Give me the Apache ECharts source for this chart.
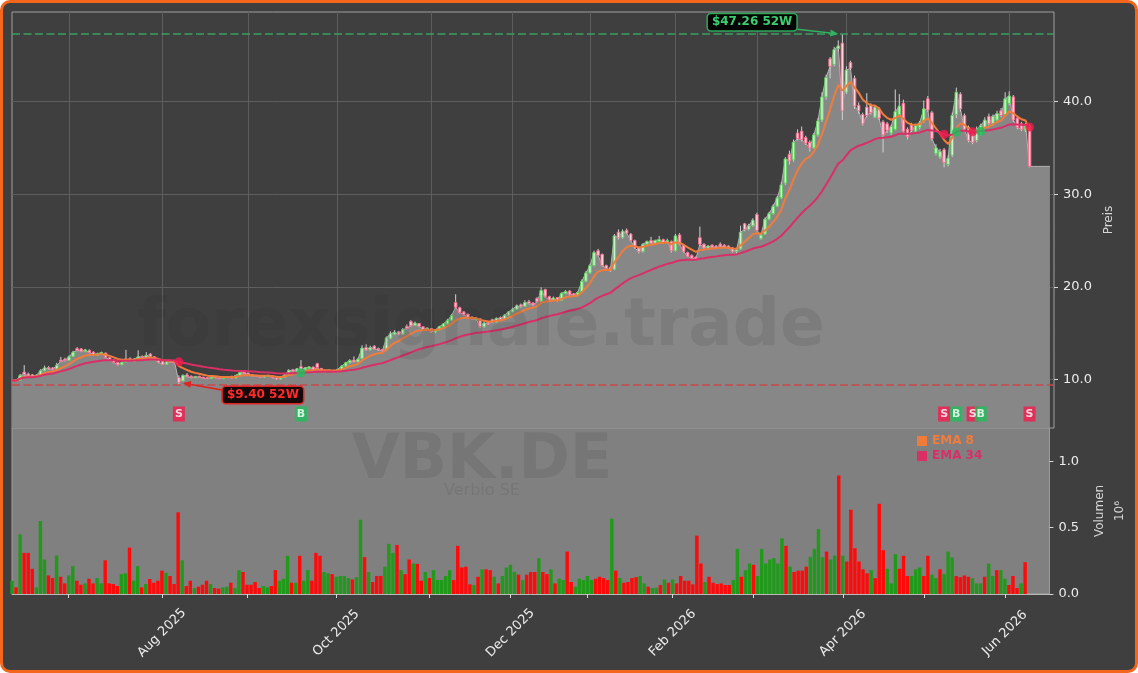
<!DOCTYPE html>
<html>
<head>
<meta charset="utf-8">
<script src="https://cdn.jsdelivr.net/npm/echarts@6/dist/echarts.min.js"></script>
<style>
html,body{margin:0;padding:0;background:#ffffff;}
#frame{position:absolute;left:0;top:0;width:1138px;height:673px;box-sizing:border-box;border:3px solid #f4661b;border-radius:10px;background:#3f3f3f;}
#chart{position:absolute;left:0;top:0;width:1138px;height:673px;}
</style>
</head>
<body>
<div id="frame"></div>
<div id="chart"></div>
<script>
// ---------------- data ----------------
const START_DATE = '2025-06-11';
const TRADING_DAYS = 251;
const HOLIDAYS = ['2025-12-24','2025-12-25','2025-12-26','2025-12-31','2026-01-01','2026-04-03','2026-04-06','2026-05-01'];
const PAD_CATEGORIES = 6;
const TAIL_FILL = 5;

const open = [
9.80,9.95,9.90,10.80,10.60,10.50,10.30,10.50,10.95,11.30,
11.25,11.15,12.10,12.20,12.05,12.50,13.35,13.30,13.05,13.15,
12.95,12.65,12.75,12.85,12.35,12.10,11.85,11.60,11.90,12.25,
11.95,12.20,12.50,12.40,12.75,12.45,12.15,11.95,11.65,12.00,
11.95,10.20,9.85,10.50,10.35,10.20,10.35,10.25,10.20,10.10,
10.30,10.20,10.10,10.20,10.35,10.15,10.45,10.85,10.70,10.55,
10.45,10.35,10.25,10.35,10.40,10.20,10.05,10.25,10.50,11.05,
10.90,11.40,11.05,11.20,11.35,11.70,11.20,10.80,10.90,11.00,
10.85,11.10,11.45,11.80,12.10,11.90,12.25,13.45,13.20,13.60,
13.35,13.25,13.20,14.45,14.90,15.15,14.90,15.75,16.25,15.85,
16.05,15.70,15.35,15.50,15.15,15.35,15.70,16.00,16.40,18.30,
17.75,17.30,17.05,16.75,16.45,16.55,15.70,16.20,16.45,16.20,
16.70,16.50,16.95,17.30,17.60,18.05,17.90,18.40,18.25,18.75,
18.45,19.70,18.95,18.55,18.85,18.55,19.30,19.55,19.25,19.10,
19.45,20.60,21.50,22.30,23.90,23.50,22.30,22.10,21.90,25.90,
25.30,26.10,25.70,25.00,24.20,23.80,24.60,25.00,24.70,24.90,
25.10,24.80,24.90,23.90,25.60,24.50,23.70,23.40,23.20,25.30,
24.60,24.10,24.50,24.40,24.60,24.50,24.40,24.20,23.80,24.10,
26.80,26.20,26.60,27.80,25.20,25.70,27.30,27.90,28.70,29.60,
31.20,34.30,33.70,36.60,36.80,36.10,35.60,35.00,36.40,38.00,
40.50,44.60,44.00,45.70,46.30,41.00,44.20,42.50,39.60,38.60,
39.40,39.60,38.30,39.20,37.80,37.60,36.60,37.00,38.60,39.80,
37.00,37.50,36.80,37.20,37.90,40.30,38.80,34.40,34.00,34.80,
33.20,34.20,38.60,40.80,38.50,37.20,36.50,35.80,36.50,37.20,
38.40,37.60,38.00,39.00,38.60,39.80,40.50,38.20,37.60,36.90,
37.40
];
const high = [
10.00,10.05,10.60,11.55,10.75,10.60,10.55,11.10,11.50,11.45,
11.35,11.80,12.45,12.35,12.60,13.10,13.50,13.40,13.30,13.25,
13.05,12.90,13.00,12.90,12.45,12.20,11.90,11.95,13.20,12.40,
12.30,13.15,12.60,12.95,12.85,12.50,12.20,12.00,11.95,12.10,
12.00,10.45,10.55,10.70,10.45,10.40,10.40,10.30,10.25,10.30,
10.35,10.25,10.25,10.35,10.40,10.50,10.90,10.95,10.75,10.60,
10.50,10.40,10.45,10.50,10.45,10.25,10.30,10.55,11.10,11.15,
11.25,12.10,11.35,11.45,11.40,11.80,11.25,11.05,11.10,11.05,
11.15,11.55,11.90,12.20,12.50,12.30,13.70,13.80,13.65,13.70,
13.45,13.30,14.65,15.20,15.35,15.25,15.55,15.95,16.40,16.25,
16.10,15.75,15.65,15.55,15.45,15.80,16.10,16.55,17.05,19.20,
17.85,17.40,17.10,16.80,16.70,16.60,16.20,16.30,16.55,16.70,
16.80,17.05,17.40,17.75,18.10,18.20,18.55,18.60,18.35,18.90,
19.95,19.80,19.05,18.95,18.90,19.40,19.65,19.65,19.30,19.50,
20.80,21.70,22.50,23.90,24.10,23.60,22.40,22.20,25.70,26.20,
26.20,26.30,25.80,25.10,24.30,24.70,25.00,25.40,25.10,25.50,
25.20,25.20,25.00,25.70,25.80,24.60,23.80,23.50,23.30,26.50,
24.70,24.50,24.60,24.50,24.80,24.60,24.50,24.30,24.10,26.60,
26.90,26.80,27.40,28.00,25.80,27.50,28.10,28.90,29.80,31.30,
34.00,34.70,35.90,37.00,37.30,36.30,35.80,36.60,38.20,41.00,
42.90,44.80,45.90,46.60,47.26,43.80,44.40,42.80,39.90,38.80,
40.90,39.80,39.60,39.40,38.00,37.80,37.50,41.30,40.80,40.20,
37.20,37.70,37.60,37.90,40.10,40.60,39.00,35.40,34.90,35.00,
34.20,38.80,41.50,41.00,38.70,37.40,36.80,37.30,37.60,38.30,
38.70,38.60,39.00,39.30,41.00,41.10,40.70,38.40,37.80,37.70,
37.60
];
const low = [
9.75,9.80,9.85,10.40,10.30,10.20,10.25,10.45,10.90,11.05,
11.00,11.10,11.85,11.95,12.00,12.45,13.05,12.95,12.95,12.85,
12.60,12.55,12.70,12.30,12.05,11.75,11.50,11.55,11.85,11.90,
11.90,12.15,12.30,12.35,12.40,12.10,11.75,11.55,11.60,11.80,
11.70,9.40,9.80,10.25,10.15,10.15,10.20,10.10,10.05,10.05,
10.15,10.05,10.05,10.15,10.10,10.10,10.40,10.60,10.50,10.35,
10.30,10.20,10.20,10.30,10.15,9.95,10.00,10.20,10.45,10.85,
10.85,11.00,11.00,11.15,11.05,11.20,10.80,10.70,10.85,10.75,
10.80,11.05,11.40,11.75,11.85,11.85,12.20,13.10,13.10,13.25,
13.10,13.00,13.15,14.35,14.80,14.75,14.85,15.40,15.70,15.80,
15.65,15.30,15.30,15.05,15.00,15.30,15.65,15.95,16.35,17.70,
17.10,16.90,16.60,16.40,16.40,15.55,15.60,15.90,16.10,16.15,
16.40,16.45,16.90,17.25,17.55,17.75,17.85,18.10,17.95,18.30,
18.40,18.80,18.50,18.50,18.40,18.50,19.20,19.05,19.00,19.05,
19.40,20.50,21.40,22.20,23.30,22.20,21.90,21.60,21.80,25.10,
25.20,25.70,24.90,24.10,23.60,23.70,24.50,24.60,24.60,24.80,
24.70,24.70,23.70,23.80,24.50,23.70,23.20,23.00,22.90,24.40,
24.00,24.00,24.20,24.10,24.30,24.20,24.10,23.70,23.60,24.00,
26.00,26.10,26.50,26.00,25.10,25.60,27.20,27.80,28.60,29.50,
31.00,33.20,33.50,35.80,35.70,35.30,34.60,34.90,36.20,37.80,
40.20,42.50,43.80,45.40,38.00,40.80,43.40,39.20,38.70,37.40,
38.30,38.60,38.20,38.00,34.50,36.60,36.40,36.90,38.40,36.60,
35.90,36.70,36.60,37.00,37.70,38.90,35.80,34.20,33.80,32.90,
33.00,34.00,38.20,38.90,36.80,35.60,35.40,35.60,36.30,37.00,
37.40,37.40,37.80,38.30,38.40,39.60,37.80,37.00,36.80,36.70,
32.90
];
const close = [
9.90,9.85,10.45,10.55,10.40,10.30,10.45,10.95,11.25,11.15,
11.10,11.55,11.95,12.05,12.45,12.95,13.15,13.05,13.20,12.90,
12.70,12.80,12.90,12.40,12.15,11.85,11.60,11.85,12.20,12.00,
12.20,12.45,12.40,12.60,12.50,12.15,11.85,11.65,11.90,11.85,
11.80,9.70,10.45,10.30,10.20,10.30,10.25,10.15,10.10,10.25,
10.20,10.10,10.20,10.30,10.15,10.45,10.75,10.70,10.55,10.40,
10.35,10.25,10.40,10.45,10.20,10.05,10.25,10.50,11.00,10.90,
11.15,11.05,11.25,11.35,11.10,11.30,10.85,10.95,11.00,10.80,
11.10,11.45,11.80,12.05,11.90,12.20,13.40,13.20,13.45,13.30,
13.20,13.10,14.50,14.95,15.10,14.85,15.40,15.50,15.80,16.10,
15.75,15.40,15.55,15.20,15.35,15.70,16.00,16.40,16.90,17.80,
17.20,17.00,16.70,16.50,16.60,15.70,16.10,16.00,16.20,16.60,
16.50,16.95,17.30,17.60,17.95,17.85,18.30,18.20,18.05,18.40,
19.60,18.90,18.60,18.80,18.50,19.30,19.50,19.20,19.10,19.40,
20.60,21.50,22.30,23.70,23.40,22.30,22.00,21.80,25.50,25.30,
26.00,25.80,25.00,24.20,23.80,24.60,24.90,24.70,25.00,25.10,
24.80,25.00,23.90,25.50,24.60,23.80,23.30,23.10,23.00,24.60,
24.20,24.40,24.30,24.20,24.40,24.30,24.20,23.80,24.00,25.90,
26.20,26.60,27.20,26.10,25.60,27.30,27.90,28.70,29.60,31.00,
33.80,33.60,35.60,36.00,35.90,35.50,35.00,36.40,37.90,40.50,
42.60,43.80,45.60,46.00,39.00,43.40,43.60,39.50,39.00,37.60,
38.50,38.80,39.40,38.20,36.40,36.90,37.30,38.90,39.50,36.80,
36.20,36.90,37.40,37.70,39.20,39.10,36.00,35.00,34.60,33.40,
33.90,38.50,41.00,39.20,37.00,35.80,35.60,37.00,37.40,38.00,
37.60,38.40,38.70,38.50,40.30,40.60,38.00,37.20,37.00,37.50,
33.00
];
// volume in millions
const volume = [
0.10,0.05,0.45,0.31,0.31,0.19,0.05,0.55,0.26,0.14,
0.12,0.29,0.13,0.08,0.14,0.21,0.10,0.07,0.08,0.115,
0.08,0.12,0.08,0.254,0.08,0.075,0.06,0.15,0.156,0.35,
0.10,0.21,0.05,0.075,0.113,0.085,0.10,0.176,0.16,0.136,
0.075,0.616,0.254,0.06,0.10,0.045,0.055,0.07,0.10,0.075,
0.045,0.04,0.05,0.055,0.085,0.045,0.18,0.166,0.07,0.07,
0.09,0.045,0.06,0.05,0.06,0.18,0.10,0.115,0.288,0.085,
0.085,0.288,0.10,0.18,0.10,0.31,0.288,0.166,0.156,0.15,
0.13,0.136,0.136,0.12,0.11,0.127,0.56,0.278,0.166,0.09,
0.136,0.136,0.206,0.378,0.31,0.37,0.18,0.15,0.26,0.23,
0.227,0.10,0.166,0.12,0.18,0.105,0.105,0.136,0.18,0.105,
0.363,0.20,0.206,0.073,0.068,0.13,0.186,0.186,0.18,0.13,
0.08,0.136,0.20,0.22,0.166,0.146,0.105,0.146,0.166,0.166,
0.27,0.166,0.15,0.186,0.08,0.115,0.105,0.32,0.09,0.055,
0.115,0.105,0.136,0.105,0.115,0.13,0.12,0.105,0.568,0.176,
0.12,0.085,0.09,0.12,0.127,0.136,0.08,0.055,0.045,0.048,
0.068,0.11,0.085,0.11,0.08,0.136,0.10,0.10,0.073,0.44,
0.23,0.09,0.13,0.085,0.075,0.08,0.068,0.068,0.105,0.34,
0.13,0.18,0.23,0.22,0.136,0.34,0.23,0.26,0.27,0.23,
0.42,0.363,0.206,0.166,0.176,0.176,0.206,0.28,0.34,0.49,
0.278,0.32,0.26,0.29,0.894,0.288,0.245,0.636,0.345,0.245,
0.186,0.156,0.18,0.12,0.68,0.33,0.19,0.08,0.30,0.19,
0.288,0.136,0.136,0.186,0.20,0.136,0.288,0.146,0.12,0.186,
0.15,0.32,0.275,0.136,0.127,0.14,0.13,0.12,0.08,0.08,
0.13,0.23,0.136,0.18,0.18,0.115,0.068,0.136,0.045,0.08,
0.24
];
const signalIndex = [41, 71, 229, 232, 236, 238, 250];
const signalType  = ['S', 'B', 'S', 'B', 'S', 'B', 'S'];
const priceTicks = [10, 20, 30, 40];
const volumeTicks = [0, 0.5, 1.0];
const MONTHS = ['Jan','Feb','Mar','Apr','May','Jun','Jul','Aug','Sep','Oct','Nov','Dec'];

// ---------------- styling constants ----------------
const PRICE_MIN = 4.77, PRICE_MAX = 49.66, VOL_MAX = 1.2516;
const SIGNAL_ROW = 6.28;
const C_EMA8 = '#f07c3c', C_EMA34 = '#d92e66';
const C_SELL = '#f21c4e', C_BUY = '#1ebe5a';
const C_VOL_UP = '#219a1c', C_VOL_DOWN = '#ff0a0a';
const C_GRID = '#5e5e5e', C_TXT = '#ececec';
const FONT = 'DejaVu Sans';

// ---------------- derived ----------------
const dates = [];
(function(){
  const d = new Date(START_DATE + 'T00:00:00Z');
  while (dates.length < TRADING_DAYS) {
    const wd = d.getUTCDay();
    const s = d.toISOString().slice(0, 10);
    if (wd !== 0 && wd !== 6 && HOLIDAYS.indexOf(s) < 0) dates.push(s);
    d.setUTCDate(d.getUTCDate() + 1);
  }
})();
const categories = dates.slice();
for (let k = 0; k < PAD_CATEGORIES; k++) categories.push('_pad' + k);

function isMonthStart(i) {
  return i > 0 && i < dates.length && dates[i].slice(0, 7) !== dates[i - 1].slice(0, 7);
}
function isLabelMonth(i) {
  return isMonthStart(i) && (+dates[i].slice(5, 7)) % 2 === 0;
}
function fmtDate(v) {
  if (!v || v.charAt(0) === '_') return '';
  return MONTHS[+v.slice(5, 7) - 1] + ' ' + v.slice(0, 4);
}
function ema(values, span) {
  const a = 2 / (span + 1);
  let num = 0, den = 0;
  return values.map(v => { num = num * (1 - a) + v; den = den * (1 - a) + 1; return +(num / den).toFixed(4); });
}
const ema8 = ema(close, 8);
const ema34 = ema(close, 34);
const areaData = close.concat(new Array(TAIL_FILL).fill(close[close.length - 1]));

const HIGH_52W = Math.max.apply(null, high);
const HIGH_52W_INDEX = high.indexOf(HIGH_52W);
const LOW_52W = Math.min.apply(null, low);
const LOW_52W_INDEX = low.indexOf(LOW_52W);

const candleData = close.map((c, i) => [i, open[i], c, low[i], high[i]]);
const volData = volume.map((v, i) => ({ value: v, itemStyle: { color: close[i] >= open[i] ? C_VOL_UP : C_VOL_DOWN } }));
const dotData = signalIndex.map((idx, k) => ({ value: [idx, ema34[idx]], itemStyle: { color: signalType[k] === 'S' ? C_SELL : C_BUY } }));
const boxData = signalIndex.map((idx, k) => ({ value: [idx, SIGNAL_ROW], itemStyle: { color: signalType[k] === 'S' ? C_SELL : C_BUY } }));

// ---------------- chart ----------------
const chart = echarts.init(document.getElementById('chart'), null, { renderer: 'canvas' });
const option = {
  animation: false,
  backgroundColor: 'transparent',
  textStyle: { fontFamily: FONT },
  legend: {
    data: [
      { name: 'EMA 8', textStyle: { color: C_EMA8 } },
      { name: 'EMA 34', textStyle: { color: C_EMA34 } }
    ],
    orient: 'vertical', left: 912, top: 430, itemWidth: 10, itemHeight: 10, itemGap: 3,
    icon: 'rect', selectedMode: false,
    textStyle: { fontWeight: 'bold', fontSize: 12, fontFamily: FONT }
  },
  grid: [
    { left: 12, top: 12, width: 1042, height: 416, show: true, borderColor: '#a0a0a0', borderWidth: 1, backgroundColor: 'transparent' },
    { left: 12, top: 428, width: 1042, height: 166, show: true, borderColor: '#a0a0a0', borderWidth: 1, backgroundColor: '#808080' }
  ],
  xAxis: [
    {
      type: 'category', gridIndex: 0, data: categories, boundaryGap: false,
      axisLine: { show: false }, axisTick: { show: false }, axisLabel: { show: false },
      splitLine: { show: true, interval: (i) => isMonthStart(i), lineStyle: { color: C_GRID, width: 1 } }
    },
    {
      type: 'category', gridIndex: 1, data: categories, boundaryGap: false,
      axisLine: { show: true, lineStyle: { color: '#b8b8b8' } },
      axisTick: { show: true, interval: (i) => isMonthStart(i), length: 4, lineStyle: { color: '#d8d8d8' } },
      axisLabel: {
        show: true, interval: (i) => isLabelMonth(i), formatter: fmtDate,
        rotate: 45, align: 'center', verticalAlign: 'middle', margin: 39,
        color: C_TXT, fontSize: 13, fontFamily: FONT
      },
      splitLine: { show: false }
    }
  ],
  yAxis: [
    {
      type: 'value', gridIndex: 0, position: 'right', min: PRICE_MIN, max: PRICE_MAX,
      axisLine: { show: false },
      axisTick: { show: true, customValues: priceTicks, length: 4, lineStyle: { color: '#d8d8d8' } },
      axisLabel: { customValues: priceTicks, formatter: v => v.toFixed(1), color: C_TXT, fontSize: 13, margin: 9, fontFamily: FONT },
      splitLine: { show: true, lineStyle: { color: C_GRID, width: 1 } },
      name: 'Preis', nameLocation: 'middle', nameRotate: 90, nameGap: 46,
      nameTextStyle: { color: '#d6d6d6', fontSize: 12, fontFamily: FONT }
    },
    {
      type: 'value', gridIndex: 1, position: 'right', min: 0, max: VOL_MAX,
      axisLine: { show: false },
      axisTick: { show: true, customValues: volumeTicks, length: 4, lineStyle: { color: '#d8d8d8' } },
      axisLabel: { customValues: volumeTicks, formatter: v => v.toFixed(1), color: C_TXT, fontSize: 13, margin: 9, fontFamily: FONT },
      splitLine: { show: false },
      name: 'Volumen\n10\u2076', nameLocation: 'middle', nameRotate: 90, nameGap: 36,
      nameTextStyle: { color: '#d6d6d6', fontSize: 12, lineHeight: 20, align: 'center', fontFamily: FONT }
    }
  ],
  series: [
    {
      name: 'Close', type: 'line', xAxisIndex: 0, yAxisIndex: 0, data: areaData, z: 1,
      symbol: 'none', silent: true,
      lineStyle: { color: '#b5b5b5', width: 1 },
      areaStyle: { color: '#878787', opacity: 1, origin: 'start' },
      markLine: {
        silent: true, symbol: 'none', label: { show: false },
        data: [
          { yAxis: HIGH_52W, lineStyle: { color: '#3aa060', width: 1.6, type: [8, 3.5] } },
          { yAxis: LOW_52W, lineStyle: { color: '#c84b4b', width: 1.6, type: [8, 3.5] } }
        ]
      }
    },
    {
      name: 'Kurs', type: 'custom', xAxisIndex: 0, yAxisIndex: 0, data: candleData, z: 3, clip: true,
      encode: { x: 0, y: [1, 2, 3, 4] },
      renderItem: function (params, api) {
        const i = api.value(0), o = api.value(1), c = api.value(2), l = api.value(3), h = api.value(4);
        const pO = api.coord([i, o]), pC = api.coord([i, c]), pL = api.coord([i, l]), pH = api.coord([i, h]);
        const w = Math.max(api.size([1, 0])[0] * 0.62, 1.5);
        const up = c >= o;
        const top = Math.min(pO[1], pC[1]), bot = Math.max(pO[1], pC[1]);
        return {
          type: 'group',
          children: [
            { type: 'line', shape: { x1: pH[0], y1: pH[1], x2: pL[0], y2: pL[1] }, style: { stroke: '#d2d2d2', lineWidth: 1 } },
            { type: 'rect', shape: { x: pO[0] - w / 2, y: top, width: w, height: Math.max(bot - top, 1) },
              style: { fill: up ? '#cdf1cd' : '#ffd3dc', stroke: up ? '#62cf62' : '#f27090', lineWidth: 1 } }
          ]
        };
      }
    },
    {
      name: 'EMA 8', type: 'line', xAxisIndex: 0, yAxisIndex: 0, data: ema8, z: 4, color: C_EMA8,
      symbol: 'none', silent: true, lineStyle: { color: C_EMA8, width: 2 }
    },
    {
      name: 'EMA 34', type: 'line', xAxisIndex: 0, yAxisIndex: 0, data: ema34, z: 4, color: C_EMA34,
      symbol: 'none', silent: true, lineStyle: { color: C_EMA34, width: 2 }
    },
    {
      name: 'Kreuzung', type: 'scatter', xAxisIndex: 0, yAxisIndex: 0, data: dotData, z: 5,
      symbol: 'circle', symbolSize: 9, silent: true
    },
    {
      name: 'Signal', type: 'scatter', xAxisIndex: 0, yAxisIndex: 0, data: boxData, z: 5,
      symbol: 'rect', symbolSize: [12, 15], silent: true,
      label: {
        show: true, position: 'inside', formatter: p => signalType[p.dataIndex],
        color: '#ffffff', fontWeight: 'bold', fontSize: 11, fontFamily: FONT
      }
    },
    {
      name: 'Volumen', type: 'bar', xAxisIndex: 1, yAxisIndex: 1, data: volData, barWidth: '85%', silent: true, z: 2
    }
  ]
};
chart.setOption(option);

// ---------------- annotations & watermark ----------------
function arrow(x1, y1, x2, y2, color) {
  const ang = Math.atan2(y2 - y1, x2 - x1), L = 8, W = 3.5;
  const bx = x2 - L * Math.cos(ang), by = y2 - L * Math.sin(ang);
  const px = -Math.sin(ang) * W, py = Math.cos(ang) * W;
  return [
    { type: 'line', z: 100, shape: { x1: x1, y1: y1, x2: bx, y2: by }, style: { stroke: color, lineWidth: 1.6 } },
    { type: 'polygon', z: 100, shape: { points: [[x2, y2], [bx + px, by + py], [bx - px, by - py]] }, style: { fill: color } }
  ];
}
const pHigh = chart.convertToPixel({ gridIndex: 0 }, [HIGH_52W_INDEX, HIGH_52W]);
const pLow = chart.convertToPixel({ gridIndex: 0 }, [LOW_52W_INDEX, LOW_52W]);
const WM = 'rgba(40,40,40,0.11)';
const graphics = [
  { type: 'text', z: 90, silent: true, x: 481, y: 328,
    style: { text: 'forexsignale.trade', font: 'bold 66px "DejaVu Sans"', fill: WM, align: 'center', verticalAlign: 'middle' } },
  { type: 'text', z: 90, silent: true, x: 482, y: 462,
    style: { text: 'VBK.DE', font: 'bold 62px "DejaVu Sans"', fill: WM, align: 'center', verticalAlign: 'middle' } },
  { type: 'text', z: 90, silent: true, x: 482, y: 491,
    style: { text: 'Verbio SE', font: '16px "DejaVu Sans"', fill: WM, align: 'center', verticalAlign: 'middle' } },
  { type: 'text', z: 101, silent: true, x: pHigh[0] - 46, y: pHigh[1] - 12,
    style: { text: '$' + HIGH_52W.toFixed(2) + ' 52W', font: 'bold 12px "DejaVu Sans"', fill: '#3ccf70',
      align: 'right', verticalAlign: 'middle', backgroundColor: '#040404', borderColor: '#2fa85a',
      borderWidth: 1.5, borderRadius: 3, padding: [2, 4, 2, 4] } },
  { type: 'text', z: 101, silent: true, x: pLow[0] + 44, y: pLow[1] + 10,
    style: { text: '$' + LOW_52W.toFixed(2) + ' 52W', font: 'bold 12px "DejaVu Sans"', fill: '#ff2b2b',
      align: 'left', verticalAlign: 'middle', backgroundColor: '#160808', borderColor: '#e02424',
      borderWidth: 1.5, borderRadius: 3, padding: [2, 4, 2, 4] } }
].concat(
  arrow(pHigh[0] - 45, pHigh[1] - 5, pHigh[0] - 4, pHigh[1] - 0.3, '#2fb35f'),
  arrow(pLow[0] + 44, pLow[1] + 5, pLow[0] + 4, pLow[1] - 2, '#e02424')
);
chart.setOption({ graphic: graphics });
</script>
</body>
</html>
